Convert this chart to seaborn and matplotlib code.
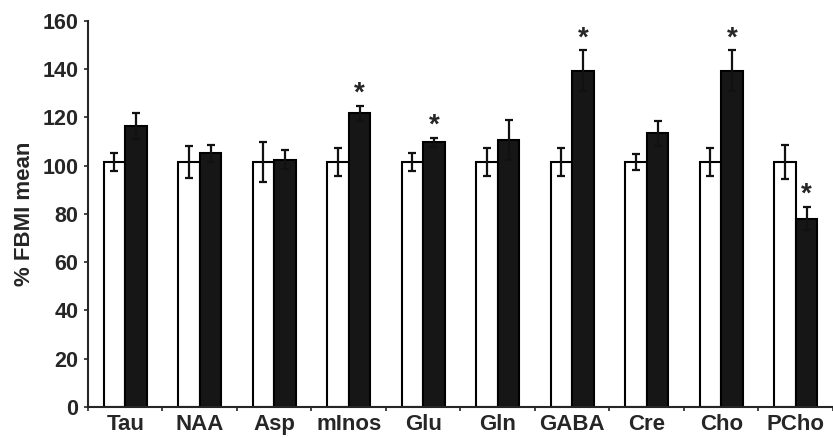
import numpy as np
import pandas as pd
import seaborn as sns
import matplotlib.pyplot as plt

# values (% of FBMI mean)
metabolites = ['Tau', 'NAA', 'Asp', 'mInos', 'Glu', 'Gln', 'GABA', 'Cre', 'Cho', 'PCho']
fbmi_mean = [101.5, 101.5, 101.5, 101.5, 101.5, 101.5, 101.5, 101.5, 101.5, 101.5]
fbmi_err = [3.7, 6.5, 8.2, 5.7, 3.7, 5.8, 5.8, 3.3, 5.8, 7.0]
other_mean = [116.2, 105.1, 102.4, 121.7, 109.7, 110.6, 139.3, 113.3, 139.3, 78.0]
other_err = [5.4, 3.6, 4.0, 3.1, 1.9, 8.2, 8.4, 5.0, 8.4, 4.9]
significant = [False, False, False, True, True, False, True, False, True, True]

df = pd.DataFrame({
    'metabolite': metabolites * 2,
    'value': fbmi_mean + other_mean,
    'group': ['FBMI'] * len(metabolites) + ['other'] * len(metabolites),
})

sns.set_style('white')
plt.rcParams['font.family'] = ['Liberation Sans', 'DejaVu Sans']
plt.rcParams['font.weight'] = 'bold'

fig = plt.figure(figsize=(8.33, 4.38), dpi=100)
ax = fig.add_axes([0.1056, 0.0708, 0.8944, 0.882])

sns.barplot(data=df, x='metabolite', y='value', hue='group',
            palette={'FBMI': 'white', 'other': '#161616'},
            edgecolor='black', linewidth=1.5, width=0.58,
            errorbar=None, legend=False, ax=ax)

# error bars at the bar centres
for i, (cont, means, errs) in enumerate(zip(ax.containers, [fbmi_mean, other_mean],
                                            [fbmi_err, other_err])):
    xs = [p.get_x() + p.get_width() / 2 for p in cont.patches]
    ax.errorbar(xs, means, yerr=errs, fmt='none', ecolor='#111111',
                elinewidth=1.6, capsize=2.8, capthick=1.6, zorder=5)
    if i == 1:
        for x, m, e, s in zip(xs, means, errs, significant):
            if s:
                ax.text(x, m + e - 0.5, '*', ha='center', va='bottom',
                        fontsize=20, fontweight='bold')

ax.set_ylim(0, 160)
ax.set_xlim(-0.5, 9.39)
ax.set_yticks(np.arange(0, 161, 20))
ax.set_xlabel('')
ax.set_ylabel('% FBMI mean', fontsize=16, fontweight='bold', labelpad=5)

ax.set_xticks(np.arange(-0.5, 10, 1), minor=True)
ax.tick_params(axis='x', which='major', length=0, labelsize=16, pad=5)
ax.tick_params(axis='x', which='minor', length=3, width=1.2, direction='out', bottom=True)
ax.tick_params(axis='y', length=3, width=1.2, direction='out', left=True, labelsize=15.5, pad=4)

for lab in ax.get_xticklabels() + ax.get_yticklabels():
    lab.set_fontweight('bold')

sns.despine(ax=ax)
ax.spines['left'].set_linewidth(1.5)
ax.spines['bottom'].set_linewidth(1.5)

fig.savefig('out.png', dpi=100)
